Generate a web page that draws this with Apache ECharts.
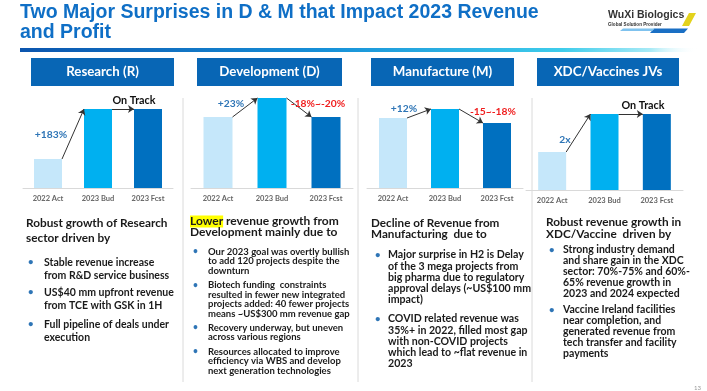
<!DOCTYPE html>
<html><head><meta charset="utf-8">
<script src="https://cdn.jsdelivr.net/npm/echarts@6/dist/echarts.min.js"></script>
<style>html,body{margin:0;padding:0;background:#fff}#c{width:707px;height:391px}</style>
</head><body><div id="c"></div>
<script>
// ---------- data ----------
const categories = ['2022 Act', '2023 Bud', '2023 Fcst'];
const panelTitles = ['Research (R)', 'Development (D)', 'Manufacture (M)', 'XDC/Vaccines JVs'];
// relative revenue sizes
const researchValues = [29, 79, 79];
const developmentValues = [71, 90, 71];
const manufactureValues = [70, 79, 65];
const xdcValues = [38, 76, 76];
const barColors = ['#C5E7FA', '#00B0F0', '#0070C0'];
const researchNotes = ['+183%', 'On Track'];
const developmentNotes = ['+23%', '-18%~-20%'];
const manufactureNotes = ['+12%', '-15~-18%'];
const xdcNotes = ['2x', 'On Track'];
const titleText = 'Two Major Surprises in D & M that Impact 2023 Revenue\nand Profit';

const researchHeading = ['Robust growth of Research', 'sector driven by'];
const researchBullets = [
  ['Stable revenue increase', 'from R&D service business'],
  ['US$40 mm upfront revenue', 'from TCE with GSK in 1H'],
  ['Full pipeline of deals under', 'execution']
];
const developmentHeading = ['{hl|Lower} revenue growth from', 'Development mainly due to'];
const developmentBullets = [
  ['Our 2023 goal was overtly bullish', 'to add 120 projects despite the', 'downturn'],
  ['Biotech funding  constraints', 'resulted in fewer new integrated', 'projects added: 40 fewer projects', 'means ~US$300 mm revenue gap'],
  ['Recovery underway, but uneven', 'across various regions'],
  ['Resources allocated to improve', 'efficiency via WBS and develop', 'next generation technologies']
];
const manufactureHeading = ['Decline of Revenue from', 'Manufacturing  due to'];
const manufactureBullets = [
  ['Major surprise in H2 is Delay', 'of the 3 mega projects from', 'big pharma due to regulatory', 'approval delays (~US$100 mm', 'impact)'],
  ['COVID related revenue was', '35%+ in 2022, filled most gap', 'with non-COVID projects', 'which lead to ~flat revenue in', '2023']
];
const xdcHeading = ['Robust revenue growth in', 'XDC/Vaccine  driven by'];
const xdcBullets = [
  ['Strong industry demand', 'and share gain in the XDC', 'sector: 70%-75% and 60%-', '65% revenue growth in', '2023 and 2024 expected'],
  ['Vaccine Ireland facilities', 'near completion, and', 'generated revenue from', 'tech transfer and facility', 'payments']
];

// ---------- layout ----------
const FONT = 'Lato, "Open Sans", sans-serif';
const panels = [
  { values: researchValues, notes: researchNotes, noteColors: ['#2E75B6', '#111'],
    grid: { left: 23, width: 150, top: 98, height: 90 }, barW: 28,
    header: [31, 143], notePos: [[51, 135], [134, 101]],
    heading: researchHeading, bullets: researchBullets,
    hx: 26, htop: 215.5, hfs: 11.8, hlh: 15, bx: 28, tx: 44, bfs: 10.5, blh: 13.3, btops: [255.5, 285.5, 317.5] },
  { values: developmentValues, notes: developmentNotes, noteColors: ['#2E75B6', '#F01E1E'],
    grid: { left: 191, width: 162, top: 98, height: 90 }, barW: 29,
    header: [197, 145], notePos: [[231, 104], [318, 104]],
    heading: developmentHeading, bullets: developmentBullets,
    hx: 190, htop: 216, hfs: 12, hlh: 11, bx: 193, tx: 208, bfs: 9.5, blh: 9.5, btops: [247, 280.3, 323, 347] },
  { values: manufactureValues, notes: manufactureNotes, noteColors: ['#2E75B6', '#F01E1E'],
    grid: { left: 367, width: 156, top: 98, height: 90 }, barW: 28,
    header: [371, 143], notePos: [[404, 109], [493, 112]],
    heading: manufactureHeading, bullets: manufactureBullets,
    hx: 371, htop: 217.5, hfs: 11.7, hlh: 11, bx: 375, tx: 388, bfs: 10.6, blh: 11.1, btops: [249.5, 313.5] },
  { values: xdcValues, notes: xdcNotes, noteColors: ['#2E75B6', '#111'],
    grid: { left: 526, width: 157, top: 100, height: 90 }, barW: 28,
    header: [537, 142], notePos: [[565, 140], [643, 106]],
    heading: xdcHeading, bullets: xdcBullets,
    hx: 546, htop: 216, hfs: 11.8, hlh: 12, bx: 549, tx: 563, bfs: 10.5, blh: 11, btops: [244.5, 304.5] }
];

const grids = [], xAxes = [], yAxes = [], series = [], graphics = [];

panels.forEach((p, i) => {
  grids.push(Object.assign({ containLabel: false }, p.grid));
  // category axis (bars)
  xAxes.push({ type: 'category', gridIndex: i, data: categories,
    axisLine: { lineStyle: { color: '#D9D9D9', width: 1 } }, axisTick: { show: false },
    axisLabel: { color: '#666', fontSize: 7.5, fontWeight: 'bold', fontFamily: FONT, margin: 7 } });
  // hidden value axis aligned to category bands (for arrows)
  xAxes.push({ type: 'value', gridIndex: i, min: -0.5, max: 2.5, show: false });
  yAxes.push({ type: 'value', gridIndex: i, min: 0, max: 90, show: false, splitLine: { show: false } });

  series.push({ type: 'bar', xAxisIndex: 2 * i, yAxisIndex: i, barWidth: p.barW,
    data: p.values.map((v, k) => ({ value: v, itemStyle: { color: barColors[k] } })),
    animation: false });

  const band = p.grid.width / 3;
  const hb = (p.barW / 2) / band;
  const arrows = [[0, 1], [1, 2]].map(([a, b]) => ({
    coords: [[a + hb, p.values[a]], [b - hb, p.values[b]]]
  }));
  series.push({ type: 'lines', coordinateSystem: 'cartesian2d', xAxisIndex: 2 * i + 1, yAxisIndex: i,
    symbol: ['none', 'arrow'], symbolSize: 6, clip: false, animation: false, z: 5,
    lineStyle: { color: '#333', width: 1, opacity: 1, curveness: 0 },
    data: arrows });

  // header box
  graphics.push({ type: 'rect', shape: { x: p.header[0], y: 58, width: p.header[1], height: 28 },
    style: { fill: '#0866B5' }, silent: true });
  graphics.push({ type: 'text', x: p.header[0] + p.header[1] / 2, y: 72,
    style: { text: panelTitles[i], fill: '#fff', font: 'bold 13.3px ' + FONT, align: 'center', verticalAlign: 'middle' }, silent: true });

  // notes
  p.notes.forEach((n, k) => {
    graphics.push({ type: 'text', x: p.notePos[k][0], y: p.notePos[k][1], z: 10,
      style: { text: n, fill: p.noteColors[k], font: 'bold ' + (k === 1 && p.noteColors[1] === '#111' ? 10.8 : 10.3) + 'px ' + FONT,
        align: 'center', verticalAlign: 'middle' }, silent: true });
  });

  // heading
  graphics.push({ type: 'text', x: p.hx, y: p.htop,
    style: { text: p.heading.join('\n'), fill: '#1A1A1A', font: 'bold ' + p.hfs + 'px ' + FONT,
      lineHeight: p.hlh, verticalAlign: 'top', align: 'left',
      rich: { hl: { backgroundColor: '#FFFF00', fontSize: p.hfs, fontWeight: 'bold', fontFamily: FONT, lineHeight: p.hlh, fill: '#1A1A1A' } } },
    silent: true });

  // bullets
  p.bullets.forEach((lines, k) => {
    const top = p.btops[k];
    graphics.push({ type: 'text', x: p.bx, y: top + p.blh / 2,
      style: { text: '•', fill: '#2E75B6', font: 'bold ' + Math.min(p.bfs - 1, 9.5) + 'px ' + FONT, align: 'left', verticalAlign: 'middle' }, silent: true });
    graphics.push({ type: 'text', x: p.tx, y: top,
      style: { text: lines.join('\n'), fill: '#1A1A1A', font: 'bold ' + p.bfs + 'px ' + FONT,
        lineHeight: p.blh, verticalAlign: 'top', align: 'left' }, silent: true });
  });
});

// separators
[183, 358, 532].forEach(x => graphics.push({ type: 'line', shape: { x1: x, y1: 98, x2: x, y2: 382 },
  style: { stroke: '#DADADA', lineWidth: 1 }, silent: true }));

// title
graphics.push({ type: 'text', x: 20, y: 3,
  style: { text: titleText, fill: '#0F6FC6', font: 'bold 19.5px "Liberation Sans", Arial, sans-serif', lineHeight: 20, verticalAlign: 'top' }, silent: true });
graphics.push({ type: 'rect', shape: { x: 20, y: 48, width: 678, height: 4 },
  style: { fill: new echarts.graphic.LinearGradient(0, 0, 1, 0, [
    { offset: 0, color: '#0B55AE' }, { offset: 0.45, color: '#1690D8' }, { offset: 0.8, color: '#3ECCEB' },
    { offset: 0.93, color: '#A8EAF6' }, { offset: 1, color: 'rgba(255,255,255,0)' }]) }, silent: true });

// logo
graphics.push({ type: 'text', x: 608, y: 15, style: { text: 'WuXi Biologics', fill: '#333', font: 'bold 10.5px "Liberation Sans", Arial, sans-serif', verticalAlign: 'middle' }, silent: true });
graphics.push({ type: 'text', x: 608, y: 24.5, style: { text: 'Global Solution Provider', fill: '#333', font: 'bold 4.6px "Liberation Sans", Arial, sans-serif', verticalAlign: 'middle' }, silent: true });
graphics.push({ type: 'polygon', shape: { points: [[682, 26], [689, 13], [696, 13], [689, 26]] }, style: { fill: '#E3D21C' }, silent: true });
graphics.push({ type: 'polygon', shape: { points: [[650, 33], [654, 28.5], [688, 28.5], [684, 33]] }, style: { fill: '#1A6FC4' }, silent: true });
graphics.push({ type: 'polygon', shape: { points: [[620, 31], [623, 28.5], [655, 28.5], [652, 31]] }, style: { fill: '#7FC2EE' }, silent: true });

// page number
graphics.push({ type: 'text', x: 694, y: 388, style: { text: '13', fill: '#999', font: '6px ' + FONT, verticalAlign: 'middle' }, silent: true });

const chart = echarts.init(document.getElementById('c'), null, { renderer: 'canvas' });
chart.setOption({
  animation: false,
  backgroundColor: '#fff',
  grid: grids, xAxis: xAxes, yAxis: yAxes, series: series, graphic: graphics
});
</script></body></html>
